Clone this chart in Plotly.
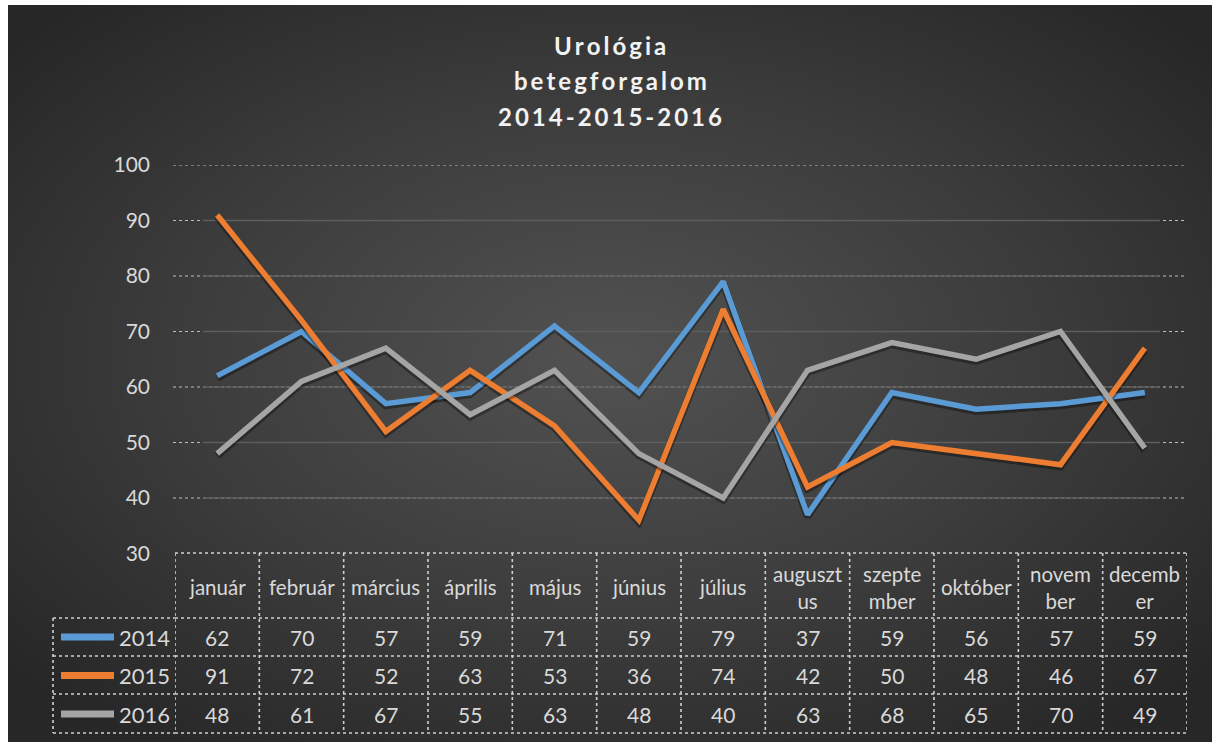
import base64
import plotly.graph_objects as go

# ---- data ----
months = ["január", "február", "március", "április", "május", "június",
          "július", "augusztus", "szeptember", "október", "november", "december"]
month_labels = ["január", "február", "március", "április", "május", "június",
                "július", "auguszt<br>us", "szepte<br>mber", "október", "novem<br>ber", "decemb<br>er"]
years = ["2014", "2015", "2016"]
v2014 = [62, 70, 57, 59, 71, 59, 79, 37, 59, 56, 57, 59]
v2015 = [91, 72, 52, 63, 53, 36, 74, 42, 50, 48, 46, 67]
v2016 = [48, 61, 67, 55, 63, 48, 40, 63, 68, 65, 70, 49]
series = [v2014, v2015, v2016]
colors = ["#5B9BD5", "#ED7D31", "#A5A5A5"]
y_ticks = [30, 40, 50, 60, 70, 80, 90, 100]
title_lines = ["Urológia", "betegforgalom", "2014-2015-2016"]

W, H = 1213, 742
def px(x):
    return x / W
def py(y):
    return 1 - y / H

FONT = "Lato, 'Open Sans', sans-serif"
TXT = "#d9d9d9"

fig = go.Figure()
xs = list(range(len(months)))
for yr, vals, col in zip(years, series, colors):
    # soft shadow
    fig.add_trace(go.Scatter(x=xs, y=[v - 0.35 for v in vals], mode="lines",
                             line=dict(color="rgba(0,0,0,0.35)", width=7.5),
                             hoverinfo="skip", showlegend=False))
    fig.add_trace(go.Scatter(x=xs, y=vals, mode="lines", name=yr,
                             line=dict(color=col, width=5.5), showlegend=False))

# background gradient
svg = ('<svg xmlns="http://www.w3.org/2000/svg" width="1205" height="737">'
       '<defs><radialGradient id="g" cx="50%" cy="48%" r="65%">'
       '<stop offset="0" stop-color="#525252"/>'
       '<stop offset="0.55" stop-color="#3c3c3c"/>'
       '<stop offset="1" stop-color="#272727"/></radialGradient></defs>'
       '<rect width="1205" height="737" fill="url(#g)"/></svg>')
src = "data:image/svg+xml;base64," + base64.b64encode(svg.encode()).decode()

shapes = []
# gridlines
for t in y_ticks[1:]:
    shapes.append(dict(type="line", xref="paper", yref="y", x0=px(173), x1=px(1187),
                       y0=t, y1=t, line=dict(color="#bdbdbd", width=1.2, dash="dot"), layer="below"))
    if t != 100:
        shapes.append(dict(type="line", xref="paper", yref="y", x0=px(203), x1=px(1160),
                           y0=t, y1=t, line=dict(color="#5e5e5e", width=1.5), layer="below"))

bc = dict(color="#d0d0d0", width=1.6, dash="dot")
# table horizontal lines
shapes.append(dict(type="line", xref="x", yref="paper", x0=-0.5, x1=11.5,
                   y0=py(553), y1=py(553), line=bc))
for yy in [618, 656, 694, 733]:
    shapes.append(dict(type="line", xref="paper", yref="paper", x0=px(53), x1=px(175),
                       y0=py(yy), y1=py(yy), line=bc))
    shapes.append(dict(type="line", xref="x", yref="paper", x0=-0.5, x1=11.5,
                       y0=py(yy), y1=py(yy), line=bc))
# table vertical lines
for i in range(len(months) + 1):
    shapes.append(dict(type="line", xref="x", yref="paper", x0=i - 0.5, x1=i - 0.5,
                       y0=py(553), y1=py(733), line=bc))
shapes.append(dict(type="line", xref="paper", yref="paper", x0=px(53), x1=px(53),
                   y0=py(618), y1=py(733), line=bc))

row_y = [637, 675.5, 714]
annotations = []
for yr, vals, col, ry in zip(years, series, colors, row_y):
    shapes.append(dict(type="line", xref="paper", yref="paper", x0=px(61), x1=px(114),
                       y0=py(ry), y1=py(ry), line=dict(color=col, width=7)))
    annotations.append(dict(text=yr, xref="paper", yref="paper", x=px(117), y=py(ry),
                            xanchor="left", yanchor="middle", showarrow=False,
                            font=dict(family=FONT, size=22, color=TXT)))
    for i, v in enumerate(vals):
        annotations.append(dict(text=str(v), xref="x", yref="paper", x=i, y=py(ry),
                                xanchor="center", yanchor="middle", showarrow=False,
                                font=dict(family=FONT, size=21, color=TXT)))

for i, lab in enumerate(month_labels):
    annotations.append(dict(text=lab, xref="x", yref="paper", x=i, y=py(587),
                            xanchor="center", yanchor="middle", showarrow=False,
                            font=dict(family=FONT, size=20.5, color=TXT)))

for line, yy in zip(title_lines, [46, 81, 116]):
    annotations.append(dict(text="<b>" + "\u2009".join(line) + "</b>", xref="paper", yref="paper",
                            x=px(610), y=py(yy), xanchor="center", yanchor="middle",
                            showarrow=False, font=dict(family=FONT, size=24, color="#f2f2f2")))

fig.update_layout(
    width=W, height=H,
    margin=dict(l=0, r=0, t=0, b=0, pad=0, autoexpand=False),
    paper_bgcolor="white", plot_bgcolor="rgba(0,0,0,0)",
    images=[dict(source=src, xref="paper", yref="paper", x=px(8), y=py(5),
                 sizex=px(1212) - px(8), sizey=py(5) - py(742), sizing="stretch",
                 xanchor="left", yanchor="top", layer="below")],
    xaxis=dict(domain=[px(175), px(1187)], range=[-0.5, 11.5], showgrid=False,
               zeroline=False, showticklabels=False, showline=False, fixedrange=True,
               automargin=False),
    yaxis=dict(domain=[py(553.5), py(165)], range=[30, 100], tickvals=y_ticks,
               showgrid=False, zeroline=False, showline=False, ticks="",
               ticklabelstandoff=24, fixedrange=True, automargin=False,
               tickfont=dict(family=FONT, size=21, color=TXT)),
    shapes=shapes, annotations=annotations, showlegend=False,
)

post = ("document.documentElement.style.margin='0';"
        "document.body.style.margin='0';document.body.style.overflow='hidden';")
fig.write_html("out.html", config={"displayModeBar": False}, post_script=post)
